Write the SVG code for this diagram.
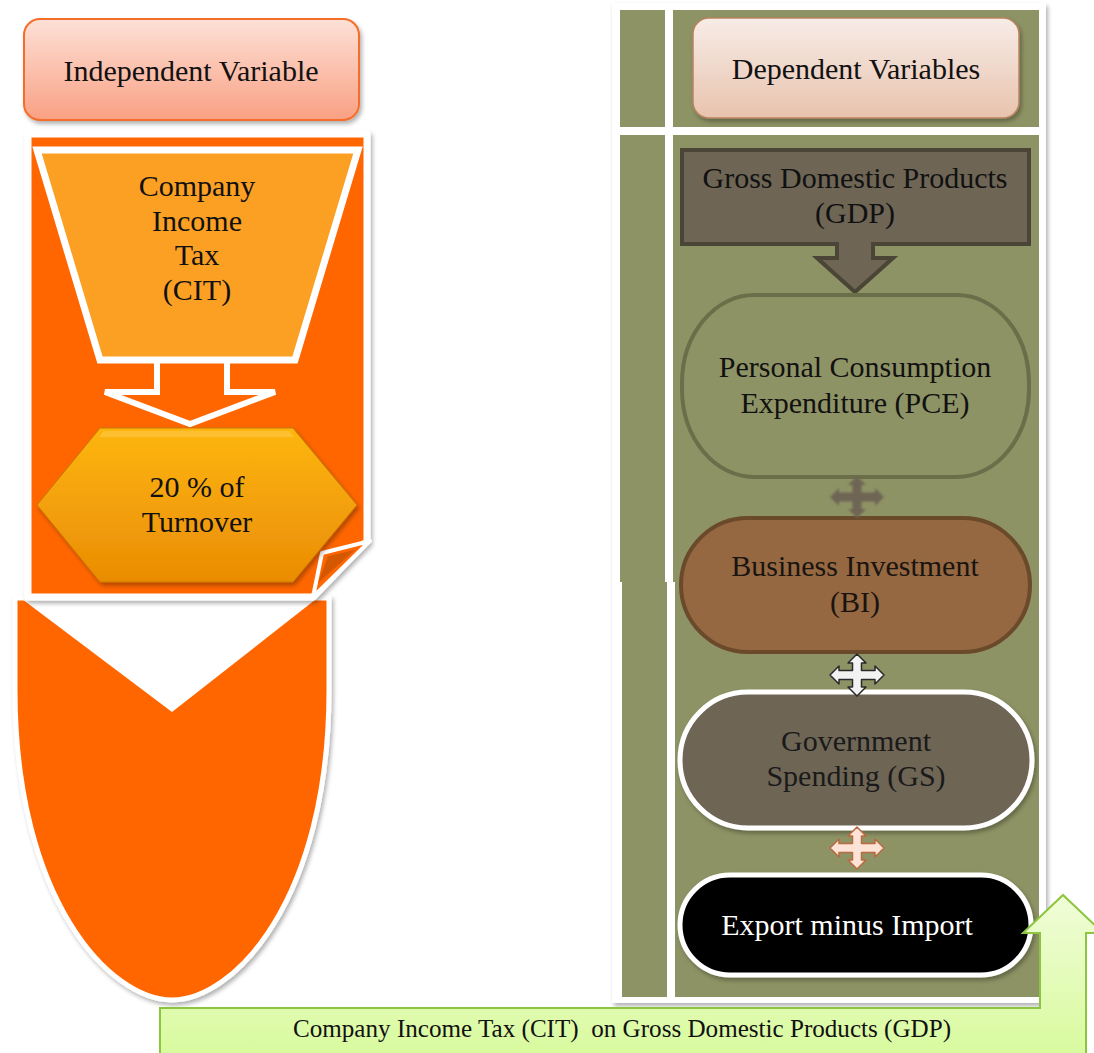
<svg xmlns="http://www.w3.org/2000/svg" width="1094" height="1053" viewBox="0 0 1094 1053">
<style>
text{font-family:"Liberation Serif","Times New Roman",serif;font-size:30px;fill:#111;text-anchor:middle}
.olive{fill:#8e9365}
</style>
<defs>
<filter id="sh" x="-10%" y="-10%" width="130%" height="130%"><feDropShadow dx="2" dy="3" stdDeviation="2" flood-color="#000" flood-opacity="0.3"/></filter>
<filter id="blur" x="-20%" y="-20%" width="140%" height="140%"><feGaussianBlur stdDeviation="1.2"/></filter>
<linearGradient id="gInd" x1="0" y1="0" x2="0" y2="1"><stop offset="0" stop-color="#fde1d7"/><stop offset="1" stop-color="#f9a083"/></linearGradient>
<linearGradient id="gDep" x1="0" y1="0" x2="0" y2="1"><stop offset="0" stop-color="#f7ece7"/><stop offset="1" stop-color="#e8c3ae"/></linearGradient>
<linearGradient id="gHex" x1="0" y1="0" x2="0" y2="1"><stop offset="0" stop-color="#fdb60f"/><stop offset="1" stop-color="#ea8c04"/></linearGradient>
<linearGradient id="gGreen" x1="0" y1="0" x2="0" y2="1"><stop offset="0" stop-color="#f0fdd8"/><stop offset="1" stop-color="#d8fa9c"/></linearGradient>
<path id="cross" d="M0,-21 L9,-12 L4.5,-12 L4.5,-4.5 L18,-4.5 L18,-9 L27,0 L18,9 L18,4.5 L4.5,4.5 L4.5,12 L9,12 L0,21 L-9,12 L-4.5,12 L-4.5,4.5 L-18,4.5 L-18,9 L-27,0 L-18,-9 L-18,-4.5 L-4.5,-4.5 L-4.5,-12 L-9,-12 Z"/>
</defs>

<!-- Left side -->
<g id="independent-variable">
<rect x="24" y="19" width="335" height="101" rx="16" fill="url(#gInd)" stroke="#f46d2a" stroke-width="2" filter="url(#sh)"/>
<text x="191" y="81">Independent Variable</text>
</g>

<g id="left-panel">
<path d="M15,598 V690 C15,900 110,1000 172,1000 C234,1000 329,900 329,690 V598 Z" fill="#ff6600" stroke="#fff" stroke-width="5" filter="url(#sh)"/>
<polygon points="18,596 172,712 320,596" fill="#fff"/>
<polygon points="28,134 367,134 367,541 313,597 28,597" fill="#ff6600" stroke="#fff" stroke-width="7" stroke-linejoin="round" filter="url(#sh)"/>
<polygon points="322,553 370,541 313,597" fill="#ff6600" stroke="#fff" stroke-width="4" stroke-linejoin="round"/>
<polygon points="328,556 355,550 318,583" fill="#d45800"/>
</g>

<g id="cit">
<path d="M157,355 V392 H105 L190,424 L275,392 H227 V355" fill="#ff6600" stroke="#fff" stroke-width="6" stroke-linejoin="miter"/>
<polygon points="37,150 358,150 295,360 100,360" fill="#fca024" stroke="#fff" stroke-width="7" stroke-linejoin="miter"/>
<text x="197" y="196">Company</text>
<text x="197" y="230.5">Income</text>
<text x="197" y="265">Tax</text>
<text x="197" y="299.5">(CIT)</text>
</g>

<g id="turnover">
<polygon points="100,428 293,428 357,505 293,582 100,582 37,505" fill="url(#gHex)" stroke="#c87700" stroke-width="1" filter="url(#sh)"/>
<polygon points="104,431 289,431 294,437 99,437" fill="#fdc540" opacity="0.7"/>
<text x="197" y="497">20 % of</text>
<text x="197" y="532">Turnover</text>
</g>

<!-- Right side -->
<g id="right-panel">
<rect x="612" y="3" width="434" height="1000" fill="#fff" filter="url(#sh)"/>
<rect class="olive" x="620" y="10" width="45" height="117"/>
<rect class="olive" x="673" y="10" width="366" height="117"/>
<rect class="olive" x="620" y="135" width="45" height="447"/>
<rect class="olive" x="673" y="135" width="366" height="447"/>
<rect class="olive" x="622" y="582" width="45" height="415"/>
<rect class="olive" x="675" y="582" width="364" height="415"/>
</g>

<g id="dependent-variables">
<rect x="693" y="18" width="326" height="100" rx="16" fill="url(#gDep)" stroke="#b88460" stroke-width="1.5" filter="url(#sh)"/>
<text x="856" y="79">Dependent Variables</text>
</g>

<g id="gdp">
<path d="M682,150 H1029 V244 H873 V258 H893 L855,292 L817,258 H837 V244 H682 Z" fill="#6e6555" stroke="#4b4538" stroke-width="4" stroke-linejoin="miter"/>
<text x="855" y="188">Gross Domestic Products</text>
<text x="855" y="223">(GDP)</text>
</g>

<g id="pce">
<rect x="682" y="295" width="347" height="182" rx="72" ry="88" fill="#8e9365" stroke="#6a6f49" stroke-width="4"/>
<text x="855" y="377">Personal Consumption</text>
<text x="855" y="413">Expenditure (PCE)</text>
</g>

<g id="bi">
<rect x="681" y="518" width="349" height="134" rx="67" fill="#956841" stroke="#6b4a2c" stroke-width="4"/>
<text x="855" y="576" style="fill:#1a1410">Business Investment</text>
<text x="855" y="612" style="fill:#1a1410">(BI)</text>
</g>

<g id="gs">
<rect x="680" y="692" width="352" height="136" rx="68" fill="#6e6555" stroke="#fff" stroke-width="5" filter="url(#sh)"/>
<text x="856" y="751" style="fill:#1a1a1a">Government</text>
<text x="856" y="786" style="fill:#1a1a1a">Spending (GS)</text>
</g>

<g id="export-import">
<rect x="680" y="875" width="351" height="100" rx="50" fill="#000" stroke="#fff" stroke-width="5" filter="url(#sh)"/>
<text x="847" y="935" style="fill:#fff">Export minus Import</text>
</g>

<g id="connectors">
<use href="#cross" x="857" y="497" fill="#6e6555" filter="url(#blur)"/>
<use href="#cross" x="857" y="675" fill="#f2f2f2" stroke="#2a2a2a" stroke-width="1.5" stroke-linejoin="round"/>
<use href="#cross" x="857" y="848" fill="#fde3d6" stroke="#b86a40" stroke-width="1.5" stroke-linejoin="round"/>
</g>

<g id="cit-on-gdp">
<polygon points="160,1008 1040,1008 1040,933 1023,933 1063,895 1103,933 1086,933 1086,1060 160,1060" fill="url(#gGreen)" stroke="#8cc63f" stroke-width="2"/>
<text x="622" y="1037" xml:space="preserve" textLength="658" lengthAdjust="spacingAndGlyphs" style="font-size:25px">Company Income Tax (CIT)  on Gross Domestic Products (GDP)</text>
</g>
</svg>
